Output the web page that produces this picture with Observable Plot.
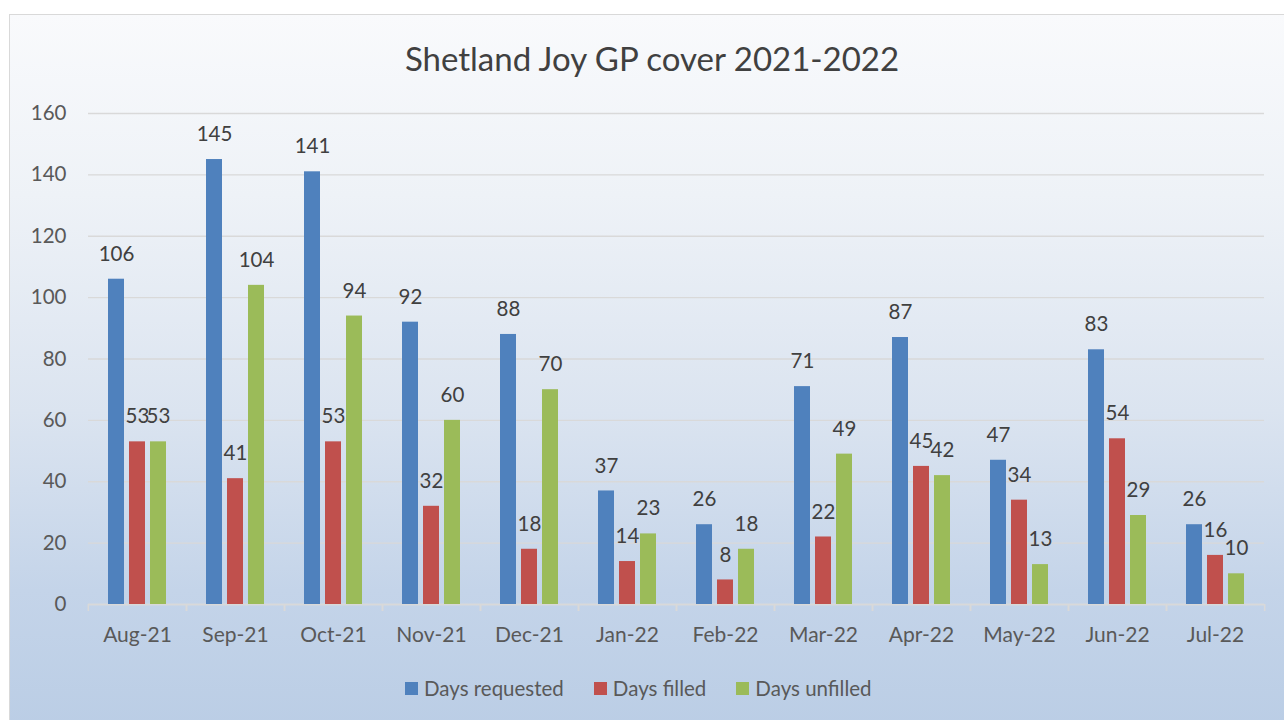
<!DOCTYPE html>
<html>
<head>
<meta charset="utf-8">
<script src="https://cdn.jsdelivr.net/npm/d3@7"></script>
<script src="https://cdn.jsdelivr.net/npm/@observablehq/plot@0.6"></script>
<style>
  html, body { margin: 0; padding: 0; background: #ffffff; width: 1284px; height: 720px; overflow: hidden; }
  #frame {
    position: absolute; left: 9px; top: 14px; width: 1290px; height: 720px;
    border: 1px solid #d9d9d9;
    background: linear-gradient(to bottom, #f9fafc 0%, #eef2f7 25%, #dbe4f0 55%, #c4d4e9 80%, #bacde5 100%);
    font-family: Lato, "Open Sans", sans-serif;
  }
  #title {
    position: absolute; left: 0; width: 1284px; top: 23px; height: 40px; line-height: 40px;
    text-align: center; font-size: 33px; color: #404040;
  }
  #chart { position: absolute; left: 0; top: 75px; }
  #legend {
    position: absolute; left: 395px; top: 658px; height: 30px; line-height: 30px;
    display: flex; align-items: center; font-size: 20.5px; color: #595959;
  }
  .item { display: flex; align-items: center; margin-right: 30px; }
  .sw { width: 13px; height: 13px; margin-right: 6px; }
</style>
</head>
<body>
<div id="frame">
  <div id="title">Shetland Joy GP cover 2021-2022</div>
  <div id="chart"></div>
  <div id="legend"></div>
</div>
<script>
const months = ["Aug-21","Sep-21","Oct-21","Nov-21","Dec-21","Jan-22","Feb-22","Mar-22","Apr-22","May-22","Jun-22","Jul-22"];
const requested = [106,145,141,92,88,37,26,71,87,47,83,26];
const filled = [53,41,53,32,18,14,8,22,45,34,54,16];
const unfilled = [53,104,94,60,70,23,18,49,42,13,29,10];
const series = ["Days requested","Days filled","Days unfilled"];
const colors = ["#4f81bd","#c0504d","#9bbb59"];
const yTicks = [0,20,40,60,80,100,120,140,160];

const values = [requested, filled, unfilled];
const data = months.flatMap((m, i) => series.map((s, j) => ({month: m, series: s, value: values[j][i]})));

const W = 1270, H = 570, ML = 76, MR = 14, MT = 23, MB = 56;
const band = (W - ML - MR) / months.length;

const chart = Plot.plot({
  width: W, height: H,
  marginTop: MT, marginBottom: MB, marginLeft: ML, marginRight: MR,
  style: {background: "transparent", fontFamily: "Lato, 'Open Sans', sans-serif", color: "#595959", overflow: "visible"},
  fx: {domain: months, padding: 0, label: null},
  x: {domain: series, paddingInner: 0.227, paddingOuter: 0.86, axis: null},
  y: {domain: [0, 160], label: null},
  color: {domain: series, range: colors},
  marks: [
    Plot.gridY(yTicks, {stroke: "#d9d9d9", strokeOpacity: 1, strokeWidth: 1.3}),
    Plot.axisY(yTicks, {tickSize: 0, tickPadding: 22, fontSize: 20.5, label: null, fill: "#595959"}),
    Plot.ruleY([0], {stroke: "#d9d9d9", strokeWidth: 1.6}),
    Plot.barY(data, {fx: "month", x: "series", y: "value", fill: "series"}),
    Plot.text(data, {fx: "month", x: "series", y: "value", text: d => String(d.value), dy: -25, fontSize: 20.5, fill: "#404040"}),
    Plot.axisFx({anchor: "bottom", tickSize: 0, tickPadding: 23, fontSize: 21, label: null, fill: "#595959"}),
    Plot.axisFx({anchor: "bottom", text: null, tickSize: 7, dx: -band / 2, stroke: "#d9d9d9", strokeWidth: 1.6, label: null}),
    Plot.axisFx(months.slice(-1), {anchor: "bottom", text: null, tickSize: 7, dx: band / 2, stroke: "#d9d9d9", strokeWidth: 1.6, label: null})
  ]
});
document.getElementById("chart").appendChild(chart);

const legend = document.getElementById("legend");
series.forEach((s, i) => {
  const it = document.createElement("div");
  it.className = "item";
  const sw = document.createElement("div");
  sw.className = "sw";
  sw.style.background = colors[i];
  const t = document.createElement("span");
  t.textContent = s;
  it.appendChild(sw); it.appendChild(t);
  legend.appendChild(it);
});
</script>
</body>
</html>
